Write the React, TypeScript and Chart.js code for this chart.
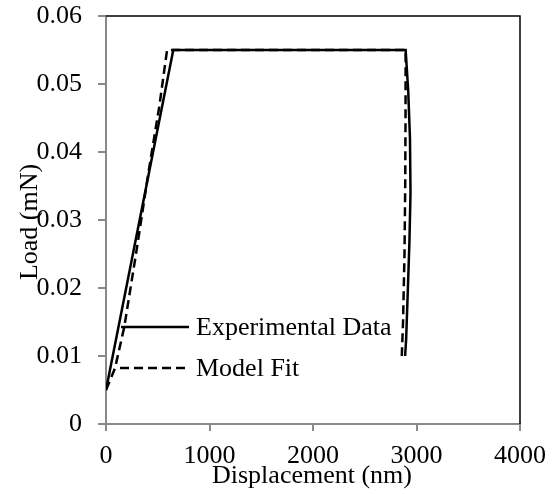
import React, { useEffect, useRef } from "react";
import { Chart, registerables } from "chart.js";

Chart.register(...registerables);

// Experimental data (displacement nm, load mN)
const expX = [0, 650, 2895, 2920, 2937, 2942, 2932, 2917, 2900, 2890];
const expY = [0.005, 0.055, 0.055, 0.049, 0.042, 0.034, 0.027, 0.02, 0.0125, 0.01];
// Model fit
const fitX = [0, 87, 177, 296, 409, 515, 590, 2895, 2894, 2891, 2884, 2870, 2858];
const fitY = [0.005, 0.0082, 0.0143, 0.0256, 0.0369, 0.0467, 0.055, 0.055, 0.045, 0.035, 0.025, 0.015, 0.01];

const seriesLabels = ["Experimental Data", "Model Fit"];
const xTitle = "Displacement (nm)";
const yTitle = "Load (mN)";
const xTicks = [0, 1000, 2000, 3000, 4000];
const yTicks = [0, 0.01, 0.02, 0.03, 0.04, 0.05, 0.06];

const FONT = '"Liberation Serif", "Times New Roman", serif';

const overlayPlugin = {
  id: "overlay",
  afterDraw(chart: any) {
    const ctx = chart.ctx;
    const a = chart.chartArea;
    ctx.save();
    // top & right border
    ctx.strokeStyle = "#000";
    ctx.lineWidth = 1.5;
    ctx.beginPath();
    ctx.moveTo(a.left, a.top);
    ctx.lineTo(a.right, a.top);
    ctx.lineTo(a.right, a.bottom);
    ctx.stroke();

    ctx.fillStyle = "#000";
    ctx.font = "26px " + FONT;
    // x title
    ctx.textAlign = "center";
    ctx.textBaseline = "alphabetic";
    ctx.fillText(xTitle, (a.left + a.right) / 2 - 1, 483);
    // y title
    ctx.save();
    ctx.translate(37, (a.top + a.bottom) / 2 + 2);
    ctx.rotate(-Math.PI / 2);
    ctx.fillText(yTitle, 0, 0);
    ctx.restore();

    // legend
    const items = chart.data.datasets;
    const rows = [
      { y: 327, x0: 121, x1: 189 },
      { y: 368, x0: 120, x1: 185 },
    ];
    items.forEach((ds: any, i: number) => {
      const r = rows[i];
      ctx.strokeStyle = ds.borderColor;
      ctx.lineWidth = 2.5;
      ctx.setLineDash(ds.borderDash || []);
      ctx.beginPath();
      ctx.moveTo(r.x0, r.y);
      ctx.lineTo(r.x1, r.y);
      ctx.stroke();
      ctx.setLineDash([]);
      ctx.textAlign = "left";
      ctx.textBaseline = "middle";
      ctx.fillText(ds.label, 196, r.y + 1);
    });
    ctx.restore();
  },
};

export default function App() {
  const ref = useRef<HTMLCanvasElement | null>(null);
  useEffect(() => {
    if (!ref.current) return;
    const chart = new Chart(ref.current, {
      type: "line",
      data: {
        datasets: [
          {
            label: seriesLabels[0],
            data: expX.map((x, i) => ({ x, y: expY[i] })),
            borderColor: "#000",
            borderWidth: 2.5,
            pointRadius: 0,
            tension: 0,
            fill: false,
          },
          {
            label: seriesLabels[1],
            data: fitX.map((x, i) => ({ x, y: fitY[i] })),
            borderColor: "#000",
            borderWidth: 2.5,
            borderDash: [9, 5],
            pointRadius: 0,
            tension: 0,
            fill: false,
          },
        ],
      },
      options: {
        animation: false,
        responsive: false,
        devicePixelRatio: 1,
        layout: { padding: { left: 0, top: 16, right: 35, bottom: 0 } },
        plugins: { legend: { display: false }, tooltip: { enabled: false } },
        scales: {
          x: {
            type: "linear",
            min: 0,
            max: 4000,
            afterFit: (s: any) => {
              s.height = 70;
              s.paddingLeft = 0;
              s.paddingRight = 0;
            },
            afterBuildTicks: (s: any) => {
              s.ticks = xTicks.map((v) => ({ value: v }));
            },
            grid: {
              drawOnChartArea: false,
              drawTicks: true,
              tickLength: 7,
              color: "#898989",
              lineWidth: 2,
            },
            border: { color: "#898989", width: 2 },
            ticks: {
              color: "#000",
              font: { family: FONT, size: 26 },
              padding: 10,
              maxRotation: 0,
              callback: (v: any) => String(Math.round(Number(v))),
            },
          },
          y: {
            type: "linear",
            min: 0,
            max: 0.06,
            afterFit: (s: any) => {
              s.width = 106;
              s.paddingTop = 0;
              s.paddingBottom = 0;
            },
            afterBuildTicks: (s: any) => {
              s.ticks = yTicks.map((v) => ({ value: v }));
            },
            grid: {
              drawOnChartArea: false,
              drawTicks: true,
              tickLength: 8,
              color: "#898989",
              lineWidth: 2,
            },
            border: { color: "#898989", width: 2 },
            ticks: {
              color: "#000",
              font: { family: FONT, size: 26 },
              padding: 16,
              callback: (v: any) => {
                const n = Number(v);
                return n === 0 ? "0" : n.toFixed(2);
              },
            },
          },
        },
      },
      plugins: [overlayPlugin],
    });
    return () => chart.destroy();
  }, []);
  return (
    <div style={{ position: "fixed", left: 0, top: 0, width: 555, height: 494, background: "#fff" }}>
      <canvas ref={ref} width={555} height={494} style={{ display: "block", width: 555, height: 494 }} />
    </div>
  );
}
